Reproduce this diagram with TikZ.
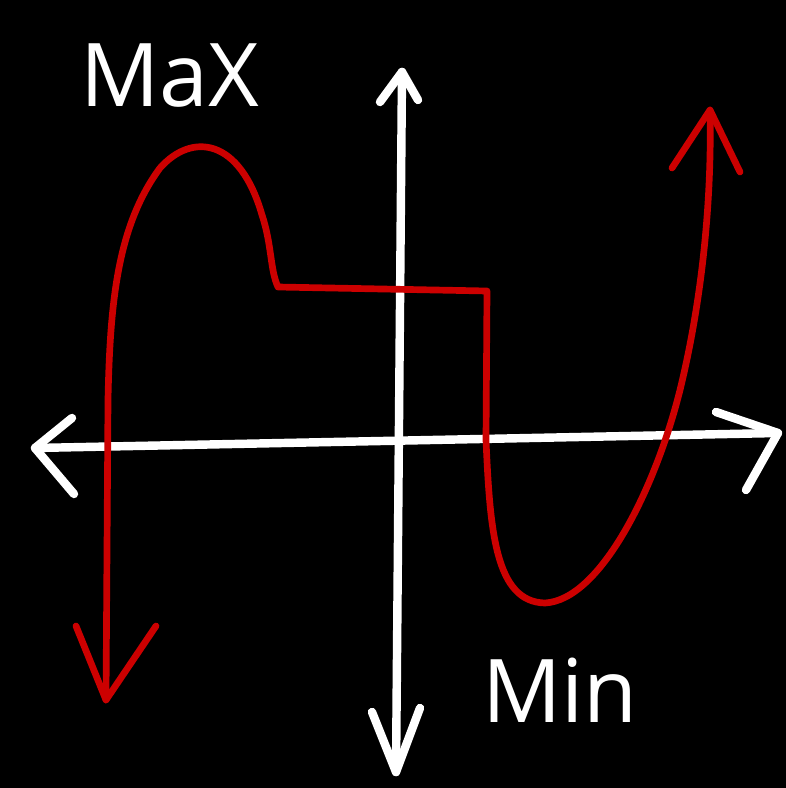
\documentclass[tikz,border=0pt]{standalone}
\usepackage{fontspec}
\setmainfont{Open Sans}
\usetikzlibrary{positioning}

\begin{document}
\begin{tikzpicture}[
    x=0.01cm, y=-0.01cm,
    axis/.style={draw=white, line width=2.4pt, line cap=round, line join=round},
    graph/.style={draw=red!80!black, line width=1.9pt, line cap=round, line join=round},
    hand/.style={text=white, font=\fontsize{25}{27}\selectfont},
  ]
    % background
    \fill[black] (0,0) rectangle (786,788);

    % axes
    \coordinate (xl) at (35,448);
    \coordinate (xr) at (778,433);
    \coordinate (yt) at (402,72);
    \coordinate (yb) at (396,772);
    \draw[axis] (xl) -- (xr);
    \draw[axis] (yt) -- (yb);
    % arrow heads of the axes
    \draw[axis] (72,418) -- (xl) -- (74,494);
    \draw[axis] (716,412) -- (xr) -- (746,490);
    \draw[axis] (380,102) -- (yt) -- (418,100);
    \draw[axis] (372,712) -- (yb) -- (420,708);

    % the graph
    \coordinate (gl) at (106,700);
    \coordinate (gr) at (710,110);
    \draw[graph] (gl) -- (108,400)
      .. controls (110,300) and (118,225) .. (160,168)
      .. controls (192,132) and (240,138) .. (262,215)
      .. controls (272,245) and (270,270) .. (278,287)
      -- (487,291) -- (486,440)
      .. controls (490,530) and (495,602) .. (545,603)
      .. controls (600,600) and (655,490) .. (680,390)
      .. controls (702,300) and (712,200) .. (gr);
    % arrow heads of the graph
    \draw[graph] (76,626) -- (gl) -- (156,626);
    \draw[graph] (672,168) -- (gr) -- (740,172);

    % labels
    \node[hand] (maxlbl) at (170,76) {MaX};
    \node[hand] (minlbl) at (560,690) {Min};
\end{tikzpicture}
\end{document}
